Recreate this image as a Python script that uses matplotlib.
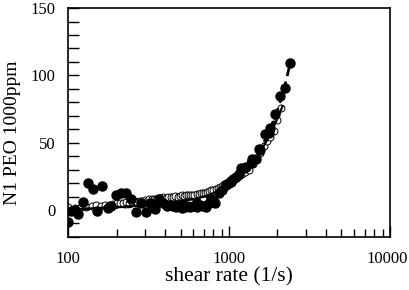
import matplotlib
matplotlib.use('Agg')
import matplotlib.pyplot as plt
import matplotlib.transforms as mtransforms
import numpy as np

plt.rcParams['font.family'] = ['Liberation Serif', 'DejaVu Serif']

# filled circles
filled_x = [100, 105, 110, 116, 124, 133, 142, 152, 163, 176, 185, 199, 213, 229, 245,
            263, 282, 303, 325, 345, 370, 390, 410, 430, 450, 470, 490, 510, 530, 550,
            575, 600, 630, 660, 690, 720, 750, 790, 820, 868, 910, 954, 1000, 1023, 1060,
            1099, 1150, 1180, 1237, 1267, 1366, 1393, 1462, 1531, 1566, 1686, 1766, 1807,
            1941, 2084, 2240, 2404]
filled_y = [-9, -1, 0, -3, 6, 20, 15.5, -0.5, 18, 1.5, 3, 11.5, 12.5, 12.5, 8,
            -1.5, 5, -1.5, 5, 1, 8, 5, 3, 4, 3, 2, 3, 1.5, 2, 3,
            2, 3, 2.5, 4, 3, 2.5, 5, 7.5, 5, 12.4, 15, 18.6, 20, 21, 23,
            24.7, 27, 31, 31, 32, 34.6, 38, 38, 45, 44.5, 56.4, 57, 60.6,
            71, 85, 91, 109]

# open circles
open_x = [100, 110, 120, 130, 140, 150, 160, 170, 180, 190, 200, 210, 220, 230, 240,
          250, 260, 270, 280, 290, 300, 310, 320, 330, 340, 350, 360, 375, 390, 405,
          420, 435, 450, 465, 480, 495, 510, 525, 540, 555, 570, 590, 610, 630, 650,
          670, 690, 710, 730, 750, 775, 800, 825, 850, 875, 900, 930, 960, 990, 1020,
          1060, 1100, 1150, 1200, 1250, 1328, 1400, 1480, 1560, 1644, 1720, 1800, 1897,
          2000, 2113]
open_y = [2.5, 1.5, 2, 2.5, 3, 3.5, 3, 4, 4, 4.5, 5, 5.5, 5, 6, 5.5,
          6, 6.5, 6, 7, 6.5, 7.5, 7, 8, 8, 8.5, 8, 9, 9, 9.5, 9,
          10, 9.5, 10, 10.5, 10, 10.5, 11, 10.5, 11, 11, 11.5, 11, 11.5, 12, 12,
          12.5, 12.5, 13, 13.5, 14, 14.5, 15, 15.5, 16.5, 17, 18, 19, 20, 21, 22,
          23, 24, 25.5, 26.5, 28, 30, 34, 38, 42.5, 47.5, 51, 54.5, 59,
          67, 76]

# fit lines
solid_x = [100, 200, 300, 400, 500, 600, 700, 800, 900, 1000, 1200, 1400, 1600, 1800, 2000, 2150]
solid_y = [0.5, 2, 3.5, 5, 6.5, 8, 10, 12.5, 15.5, 19, 26.5, 35, 45, 56, 68, 77]
dash_x = [100, 300, 500, 700, 900, 1000, 1200, 1400, 1600, 1800, 2000, 2200, 2400]
dash_y = [0, 3, 5, 8, 14, 18, 26, 36, 47, 60, 74, 90, 109]

fig = plt.figure(figsize=(4.1, 2.9), dpi=100)
ax = fig.add_axes([0.166, 0.183, 0.785, 0.789])

ax.plot(open_x, open_y, 'o', mfc='white', mec='black', ms=5, mew=0.7, zorder=2)
ax.plot(solid_x, solid_y, '-', color='black', lw=1.6, zorder=3)
ax.plot(dash_x, dash_y, '--', color='black', lw=2, dashes=(3, 2), zorder=3)
ax.plot(filled_x, filled_y, 'o', color='black', ms=6.5, zorder=4)

ax.set_xscale('log')
ax.set_xlim(100, 10000)
ax.set_ylim(-20, 150)
ax.set_yticks([0, 50, 100, 150])
ax.set_yticks(np.arange(-20, 150, 10), minor=True)
ax.set_xticks([100, 1000, 10000])
ax.set_xticklabels(['100', '1000', '10000'])
ax.tick_params(which='both', direction='in', top=False, right=False, labelsize=12, width=1)
ax.tick_params(which='major', length=8)
ax.tick_params(axis='x', which='major', pad=10)
ax.tick_params(axis='y', which='major', pad=9)
ax.tick_params(which='minor', length=6)
ax.tick_params(axis='y', which='minor', length=8)
for s in ax.spines.values():
    s.set_linewidth(1.2)

# nudge last x label so it stays inside the figure
lbl = ax.get_xticklabels()[-1]
lbl.set_transform(lbl.get_transform() + mtransforms.ScaledTranslation(-3 / 100, 0, fig.dpi_scale_trans))

ax.set_xlabel('shear rate (1/s)', fontsize=15.5, labelpad=0)
ax.set_ylabel('N1 PEO 1000ppm', fontsize=14)
ax.yaxis.set_label_coords(-0.145, 0.455)

fig.savefig('out.png', dpi=100)
